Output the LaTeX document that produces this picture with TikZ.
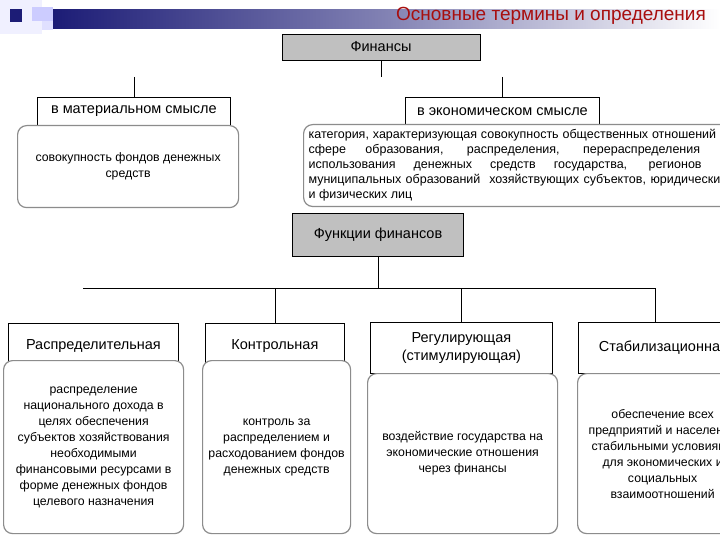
\documentclass[tikz,border=0pt]{standalone}
\usepackage{fontspec}
\setmainfont{Liberation Sans}
\usetikzlibrary{positioning}
\usetikzlibrary{calc}
\definecolor{navy}{RGB}{28,28,118}
\definecolor{titlered}{RGB}{168,14,14}
\definecolor{boxgray}{RGB}{192,192,192}
\definecolor{rimgray}{RGB}{140,140,140}

\begin{document}
\begin{tikzpicture}[x=1pt,y=-1pt]
				\tikzset{headbox/.style = {shape=rectangle, draw, fill=boxgray, line width=0.8pt, font=\fontsize{14.5}{17}\selectfont}}
				\tikzset{sensebox/.style = {shape=rectangle, draw, fill=white, line width=0.8pt, anchor=north west, align=center, font=\fontsize{14.5}{19}\selectfont}}
				\tikzset{defbox/.style = {shape=rectangle, rounded corners=9pt, draw=rimgray, line width=1.2pt, fill=white, anchor=north west, align=center, font=\fontsize{12.3}{16}\selectfont}}
				\clip (0,0) rectangle (720,540);
				\fill[white] (0,0) rectangle (720,540);
				% header strip
				\fill[blue!6] (0,0) rectangle (42,34);
				\fill[blue!20] (32,7) rectangle (53,21);
				\fill[blue!12] (42,21) rectangle (53,30);
				\fill[navy] (10,9) rectangle (22,22);
				\shade[left color=navy, right color=white, middle color=navy!55] (53,10) rectangle (720,29);
				\node[text=titlered, font=\fontsize{19}{22}\selectfont] (TITLE) at (551,16) {Основные термины и определения};
				
				% finance and its two senses
				\node[headbox, minimum width=198pt, minimum height=26pt] (FIN) at (381,47) {Финансы};
				\coordinate (JOIN) at (381,77);
				\draw[line width=0.8pt] (FIN) -- (JOIN);
				
				\node[sensebox, minimum width=193pt, minimum height=28pt] (MAT) at (37,97) {в материальном смысле};
				\node[sensebox, minimum width=194pt, minimum height=28pt] (ECO) at (405,97) {в экономическом смысле};
				\draw[line width=0.8pt] (MAT.north |- JOIN) -- (MAT.north);
				\draw[line width=0.8pt] (ECO.north |- JOIN) -- (ECO.north);
				
				\node[defbox, minimum width=221pt, minimum height=82pt] (MATDEF) at (17,125)
				{совокупность фондов денежных\\ средств};
				\node[defbox, minimum height=81pt, inner sep=5pt, text width=418pt, align=justify,
				      font=\fontsize{12.5}{15}\selectfont] (ECODEF) at (303,124)
				{категория, характеризующая совокупность общественных отношений в\linebreak
					сфере образования, распределения, перераспределения и\linebreak
					использования денежных средств государства, регионов и\linebreak
					муниципальных образований \ хозяйствующих субъектов, юридических\linebreak
					и физических лиц};
				
				% functions
				\node[headbox, minimum width=171pt, minimum height=43pt] (FUN) at (378,235) {Функции финансов};
				\coordinate (BUSL) at (83,288);
				\coordinate (BUSR) at (655,288);
				\draw[line width=0.8pt] (FUN.south) -- (FUN.south |- BUSL);
				\draw[line width=0.8pt] (BUSL) -- (BUSR);
				
				\node[sensebox, minimum width=170pt, minimum height=45pt] (DIST) at (8,323) {Распределительная};
				\node[sensebox, minimum width=139pt, minimum height=45pt] (CTRL) at (205,323) {Контрольная};
				\node[sensebox, minimum width=182pt, minimum height=51pt, font=\fontsize{14.5}{18}\selectfont] (REG) at (370,322) {Регулирующая\\(стимулирующая)};
				\node[sensebox, minimum width=170pt, minimum height=51pt] (STAB) at (578,322) {Стабилизационная};
				\draw[line width=0.8pt] (CTRL.north |- BUSL) -- (CTRL.north);
				\draw[line width=0.8pt] (REG.north |- BUSL) -- (REG.north);
				\draw[line width=0.8pt] (BUSR) -- (BUSR |- STAB.north);
				
				\node[defbox, minimum width=180pt, minimum height=173pt] (DISTDEF) at (3,360)
				{распределение\\ национального дохода в\\ целях обеспечения\\ субъектов хозяйствования\\ необходимыми\\ финансовыми ресурсами в\\ форме денежных фондов\\ целевого назначения};
				\node[defbox, minimum width=148pt, minimum height=173pt] (CTRLDEF) at (202,360)
				{контроль за\\ распределением и\\ расходованием фондов\\ денежных средств};
				\node[defbox, minimum width=190pt, minimum height=160pt] (REGDEF) at (367,373)
				{воздействие государства на\\ экономические отношения\\ через финансы};
				\node[defbox, minimum width=170pt, minimum height=160pt] (STABDEF) at (577,373)
				{обеспечение всех\\ предприятий и населения\\ стабильными условиями\\ для экономических и\\ социальных\\ взаимоотношений};
				
				\end{tikzpicture}
\end{document}
